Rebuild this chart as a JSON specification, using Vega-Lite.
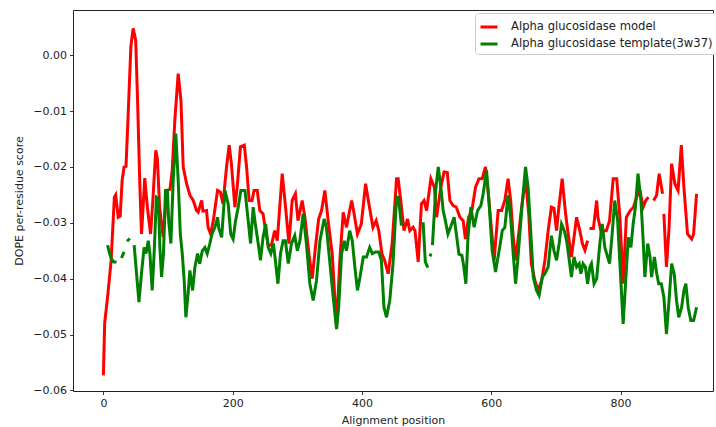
{
  "$schema": "https://vega.github.io/schema/vega-lite/v6.json",
  "width": 640,
  "height": 381,
  "autosize": "none",
  "padding": {"left": 73, "top": 10, "right": 3, "bottom": 36},
  "background": "white",
  "config": {
    "font": "DejaVu Sans",
    "view": {"stroke": "#222", "strokeWidth": 1},
    "axis": {
      "grid": false, "domain": false, "tickColor": "#222", "tickSize": 3.5, "tickWidth": 0.9,
      "labelColor": "#222", "labelFontSize": 11, "labelPadding": 3, "titleColor": "#222",
      "titleFontSize": 11, "titleFontWeight": "normal", "labelFont": "DejaVu Sans", "titleFont": "DejaVu Sans"
    }
  },
  "data": {"values": [
    {"s":"Alpha glucosidase model","x":0,"y":-0.0573},{"s":"Alpha glucosidase model","x":2,"y":-0.048},{"s":"Alpha glucosidase model","x":7,"y":-0.0427},{"s":"Alpha glucosidase model","x":12,"y":-0.0367},{"s":"Alpha glucosidase model","x":17,"y":-0.0254},{"s":"Alpha glucosidase model","x":19,"y":-0.025},{"s":"Alpha glucosidase model","x":23,"y":-0.029},{"s":"Alpha glucosidase model","x":26,"y":-0.0288},{"s":"Alpha glucosidase model","x":29,"y":-0.0224},{"s":"Alpha glucosidase model","x":32,"y":-0.02},{"s":"Alpha glucosidase model","x":35,"y":-0.0199},{"s":"Alpha glucosidase model","x":38,"y":-0.0116},{"s":"Alpha glucosidase model","x":42.5,"y":0.0015},{"s":"Alpha glucosidase model","x":46,"y":0.0048},{"s":"Alpha glucosidase model","x":50,"y":0.0027},{"s":"Alpha glucosidase model","x":53,"y":-0.0086},{"s":"Alpha glucosidase model","x":56.5,"y":-0.0236},{"s":"Alpha glucosidase model","x":59,"y":-0.032},{"s":"Alpha glucosidase model","x":64,"y":-0.022},{"s":"Alpha glucosidase model","x":68,"y":-0.0272},{"s":"Alpha glucosidase model","x":73,"y":-0.032},{"s":"Alpha glucosidase model","x":76.5,"y":-0.026},{"s":"Alpha glucosidase model","x":81,"y":-0.017},{"s":"Alpha glucosidase model","x":83.5,"y":-0.0185},{"s":"Alpha glucosidase model","x":87,"y":-0.0272},{"s":"Alpha glucosidase model","x":92.5,"y":-0.0326},{"s":"Alpha glucosidase model","x":98,"y":-0.0242},{"s":"Alpha glucosidase model","x":103,"y":-0.024},{"s":"Alpha glucosidase model","x":106.5,"y":-0.0206},{"s":"Alpha glucosidase model","x":110.5,"y":-0.0117},{"s":"Alpha glucosidase model","x":115.7,"y":-0.0033},{"s":"Alpha glucosidase model","x":120,"y":-0.0081},{"s":"Alpha glucosidase model","x":123.5,"y":-0.02},{"s":"Alpha glucosidase model","x":128.7,"y":-0.023},{"s":"Alpha glucosidase model","x":134,"y":-0.0251},{"s":"Alpha glucosidase model","x":139,"y":-0.026},{"s":"Alpha glucosidase model","x":144,"y":-0.0278},{"s":"Alpha glucosidase model","x":146.6,"y":-0.0281},{"s":"Alpha glucosidase model","x":152,"y":-0.026},{"s":"Alpha glucosidase model","x":154,"y":-0.0279},{"s":"Alpha glucosidase model","x":159.6,"y":-0.0278},{"s":"Alpha glucosidase model","x":162,"y":-0.0308},{"s":"Alpha glucosidase model","x":166,"y":-0.032},{"s":"Alpha glucosidase model","x":170,"y":-0.0296},{"s":"Alpha glucosidase model","x":176.6,"y":-0.0242},{"s":"Alpha glucosidase model","x":181,"y":-0.0245},{"s":"Alpha glucosidase model","x":185,"y":-0.0266},{"s":"Alpha glucosidase model","x":190.5,"y":-0.02},{"s":"Alpha glucosidase model","x":194.6,"y":-0.0161},{"s":"Alpha glucosidase model","x":198,"y":-0.0194},{"s":"Alpha glucosidase model","x":203.4,"y":-0.0272},{"s":"Alpha glucosidase model","x":207,"y":-0.0236},{"s":"Alpha glucosidase model","x":212,"y":-0.0164},{"s":"Alpha glucosidase model","x":218,"y":-0.0161},{"s":"Alpha glucosidase model","x":221.5,"y":-0.02},{"s":"Alpha glucosidase model","x":225.5,"y":-0.026},{"s":"Alpha glucosidase model","x":230,"y":-0.026},{"s":"Alpha glucosidase model","x":233,"y":-0.0242},{"s":"Alpha glucosidase model","x":238,"y":-0.0242},{"s":"Alpha glucosidase model","x":242,"y":-0.0278},{"s":"Alpha glucosidase model","x":247,"y":-0.0284},{"s":"Alpha glucosidase model","x":251,"y":-0.0314},{"s":"Alpha glucosidase model","x":255,"y":-0.034},{"s":"Alpha glucosidase model","x":260,"y":-0.034},{"s":"Alpha glucosidase model","x":265,"y":-0.0314},{"s":"Alpha glucosidase model","x":269,"y":-0.0332},{"s":"Alpha glucosidase model","x":276.6,"y":-0.0212},{"s":"Alpha glucosidase model","x":281.8,"y":-0.0272},{"s":"Alpha glucosidase model","x":287,"y":-0.0337},{"s":"Alpha glucosidase model","x":292,"y":-0.026},{"s":"Alpha glucosidase model","x":297,"y":-0.0248},{"s":"Alpha glucosidase model","x":301,"y":-0.0296},{"s":"Alpha glucosidase model","x":307.5,"y":-0.026},{"s":"Alpha glucosidase model","x":311.7,"y":-0.029},{"s":"Alpha glucosidase model","x":318,"y":-0.0356},{"s":"Alpha glucosidase model","x":323,"y":-0.04},{"s":"Alpha glucosidase model","x":328,"y":-0.0344},{"s":"Alpha glucosidase model","x":333,"y":-0.0293},{"s":"Alpha glucosidase model","x":337.5,"y":-0.0278},{"s":"Alpha glucosidase model","x":342.6,"y":-0.0242},{"s":"Alpha glucosidase model","x":347.7,"y":-0.0296},{"s":"Alpha glucosidase model","x":354,"y":-0.0356},{"s":"Alpha glucosidase model","x":360.7,"y":-0.0487},{"s":"Alpha glucosidase model","x":365.8,"y":-0.0367},{"s":"Alpha glucosidase model","x":371,"y":-0.0281},{"s":"Alpha glucosidase model","x":376,"y":-0.0308},{"s":"Alpha glucosidase model","x":384,"y":-0.026},{"s":"Alpha glucosidase model","x":387,"y":-0.0278},{"s":"Alpha glucosidase model","x":393,"y":-0.032},{"s":"Alpha glucosidase model","x":399,"y":-0.0302},{"s":"Alpha glucosidase model","x":405.6,"y":-0.023},{"s":"Alpha glucosidase model","x":410.7,"y":-0.0266},{"s":"Alpha glucosidase model","x":417,"y":-0.0308},{"s":"Alpha glucosidase model","x":422,"y":-0.0296},{"s":"Alpha glucosidase model","x":426,"y":-0.0314},{"s":"Alpha glucosidase model","x":431,"y":-0.0356},{"s":"Alpha glucosidase model","x":435,"y":-0.0367},{"s":"Alpha glucosidase model","x":440.5,"y":-0.0391},{"s":"Alpha glucosidase model","x":446.7,"y":-0.0337},{"s":"Alpha glucosidase model","x":453.5,"y":-0.0221},{"s":"Alpha glucosidase model","x":456,"y":-0.0221},{"s":"Alpha glucosidase model","x":460,"y":-0.026},{"s":"Alpha glucosidase model","x":465,"y":-0.0314},{"s":"Alpha glucosidase model","x":470.5,"y":-0.0293},{"s":"Alpha glucosidase model","x":474,"y":-0.0314},{"s":"Alpha glucosidase model","x":479,"y":-0.0308},{"s":"Alpha glucosidase model","x":482,"y":-0.0314},{"s":"Alpha glucosidase model","x":487,"y":-0.037},{"s":"Alpha glucosidase model","x":492,"y":-0.0266},{"s":"Alpha glucosidase model","x":496,"y":-0.026},{"s":"Alpha glucosidase model","x":500,"y":-0.0278},{"s":"Alpha glucosidase model","x":506.6,"y":-0.0221},{"s":"Alpha glucosidase model","x":512,"y":-0.0236},{"s":"Alpha glucosidase model","x":515.4,"y":-0.029},{"s":"Alpha glucosidase model","x":522,"y":-0.0236},{"s":"Alpha glucosidase model","x":527,"y":-0.0209},{"s":"Alpha glucosidase model","x":532,"y":-0.021},{"s":"Alpha glucosidase model","x":536,"y":-0.026},{"s":"Alpha glucosidase model","x":541,"y":-0.0269},{"s":"Alpha glucosidase model","x":546,"y":-0.0272},{"s":"Alpha glucosidase model","x":551.5,"y":-0.029},{"s":"Alpha glucosidase model","x":556.5,"y":-0.0296},{"s":"Alpha glucosidase model","x":560,"y":-0.0329},{"s":"Alpha glucosidase model","x":565,"y":-0.029},{"s":"Alpha glucosidase model","x":570,"y":-0.0278},{"s":"Alpha glucosidase model","x":575.7,"y":-0.0236},{"s":"Alpha glucosidase model","x":581,"y":-0.0221},{"s":"Alpha glucosidase model","x":586,"y":-0.0221},{"s":"Alpha glucosidase model","x":591,"y":-0.02},{"s":"Alpha glucosidase model","x":595,"y":-0.0242},{"s":"Alpha glucosidase model","x":600.5,"y":-0.0314},{"s":"Alpha glucosidase model","x":604.5,"y":-0.0367},{"s":"Alpha glucosidase model","x":607,"y":-0.033},{"s":"Alpha glucosidase model","x":610.7,"y":-0.0278},{"s":"Alpha glucosidase model","x":616,"y":-0.0278},{"s":"Alpha glucosidase model","x":621,"y":-0.026},{"s":"Alpha glucosidase model","x":626,"y":-0.0221},{"s":"Alpha glucosidase model","x":630,"y":-0.026},{"s":"Alpha glucosidase model","x":634,"y":-0.0326},{"s":"Alpha glucosidase model","x":637.6,"y":-0.0367},{"s":"Alpha glucosidase model","x":640.7,"y":-0.0337},{"s":"Alpha glucosidase model","x":647,"y":-0.0272},{"s":"Alpha glucosidase model","x":653,"y":-0.0221},{"s":"Alpha glucosidase model","x":658,"y":-0.0284},{"s":"Alpha glucosidase model","x":662,"y":-0.0373},{"s":"Alpha glucosidase model","x":667.4,"y":-0.0403},{"s":"Alpha glucosidase model","x":672.5,"y":-0.0421},{"s":"Alpha glucosidase model","x":678,"y":-0.0403},{"s":"Alpha glucosidase model","x":683,"y":-0.0367},{"s":"Alpha glucosidase model","x":688,"y":-0.0314},{"s":"Alpha glucosidase model","x":693,"y":-0.0272},{"s":"Alpha glucosidase model","x":697,"y":-0.0274},{"s":"Alpha glucosidase model","x":701,"y":-0.0314},{"s":"Alpha glucosidase model","x":704.6,"y":-0.0272},{"s":"Alpha glucosidase model","x":709.7,"y":-0.0221},{"s":"Alpha glucosidase model","x":715,"y":-0.0284},{"s":"Alpha glucosidase model","x":719,"y":-0.032},{"s":"Alpha glucosidase model","x":724,"y":-0.0361},{"s":"Alpha glucosidase model","x":728,"y":-0.0326},{"s":"Alpha glucosidase model","x":732,"y":-0.029},{"s":"Alpha glucosidase model","x":737,"y":-0.0314},{"s":"Alpha glucosidase model","x":741,"y":-0.0337},{"s":"Alpha glucosidase model","x":745,"y":-0.0349},{"s":"Alpha glucosidase model","x":749,"y":-0.0332},{"s":"Alpha glucosidase model","x":750.5,"y":null},{"s":"Alpha glucosidase model","x":752,"y":-0.031},{"s":"Alpha glucosidase model","x":758,"y":-0.031},{"s":"Alpha glucosidase model","x":763,"y":-0.026},{"s":"Alpha glucosidase model","x":765,"y":-0.029},{"s":"Alpha glucosidase model","x":770.6,"y":-0.032},{"s":"Alpha glucosidase model","x":774,"y":-0.0314},{"s":"Alpha glucosidase model","x":778,"y":-0.0314},{"s":"Alpha glucosidase model","x":783,"y":-0.0296},{"s":"Alpha glucosidase model","x":788.6,"y":-0.0221},{"s":"Alpha glucosidase model","x":794,"y":-0.0221},{"s":"Alpha glucosidase model","x":799,"y":-0.029},{"s":"Alpha glucosidase model","x":804,"y":-0.0409},{"s":"Alpha glucosidase model","x":809,"y":-0.029},{"s":"Alpha glucosidase model","x":815,"y":-0.0278},{"s":"Alpha glucosidase model","x":820,"y":-0.0272},{"s":"Alpha glucosidase model","x":824.7,"y":-0.0254},{"s":"Alpha glucosidase model","x":830,"y":-0.0242},{"s":"Alpha glucosidase model","x":835,"y":-0.0272},{"s":"Alpha glucosidase model","x":839,"y":-0.026},{"s":"Alpha glucosidase model","x":843,"y":-0.0254},{"s":"Alpha glucosidase model","x":847,"y":null},{"s":"Alpha glucosidase model","x":851,"y":-0.026},{"s":"Alpha glucosidase model","x":855.7,"y":-0.0251},{"s":"Alpha glucosidase model","x":859.7,"y":-0.0212},{"s":"Alpha glucosidase model","x":865,"y":-0.0248},{"s":"Alpha glucosidase model","x":866,"y":null},{"s":"Alpha glucosidase model","x":867,"y":-0.0284},{"s":"Alpha glucosidase model","x":871,"y":-0.0379},{"s":"Alpha glucosidase model","x":875,"y":-0.031},{"s":"Alpha glucosidase model","x":879,"y":-0.0194},{"s":"Alpha glucosidase model","x":884,"y":-0.023},{"s":"Alpha glucosidase model","x":889,"y":-0.0242},{"s":"Alpha glucosidase model","x":894,"y":-0.0161},{"s":"Alpha glucosidase model","x":898,"y":-0.0236},{"s":"Alpha glucosidase model","x":903.6,"y":-0.032},{"s":"Alpha glucosidase model","x":910,"y":-0.0329},{"s":"Alpha glucosidase model","x":913,"y":-0.032},{"s":"Alpha glucosidase model","x":917.6,"y":-0.0248},
    {"s":"Alpha glucosidase template(3w37)","x":6.5,"y":-0.034},{"s":"Alpha glucosidase template(3w37)","x":9.6,"y":-0.0355},{"s":"Alpha glucosidase template(3w37)","x":12.7,"y":-0.0365},{"s":"Alpha glucosidase template(3w37)","x":16,"y":-0.037},{"s":"Alpha glucosidase template(3w37)","x":20.4,"y":-0.037},{"s":"Alpha glucosidase template(3w37)","x":24,"y":null},{"s":"Alpha glucosidase template(3w37)","x":28,"y":-0.0363},{"s":"Alpha glucosidase template(3w37)","x":32,"y":-0.0352},{"s":"Alpha glucosidase template(3w37)","x":34.5,"y":null},{"s":"Alpha glucosidase template(3w37)","x":36.5,"y":-0.0333},{"s":"Alpha glucosidase template(3w37)","x":41,"y":-0.0328},{"s":"Alpha glucosidase template(3w37)","x":44,"y":null},{"s":"Alpha glucosidase template(3w37)","x":47.6,"y":-0.034},{"s":"Alpha glucosidase template(3w37)","x":51.3,"y":-0.0391},{"s":"Alpha glucosidase template(3w37)","x":55,"y":-0.0442},{"s":"Alpha glucosidase template(3w37)","x":59,"y":-0.039},{"s":"Alpha glucosidase template(3w37)","x":63,"y":-0.0344},{"s":"Alpha glucosidase template(3w37)","x":66,"y":-0.0355},{"s":"Alpha glucosidase template(3w37)","x":69.4,"y":-0.0332},{"s":"Alpha glucosidase template(3w37)","x":72,"y":-0.0355},{"s":"Alpha glucosidase template(3w37)","x":75.5,"y":-0.0421},{"s":"Alpha glucosidase template(3w37)","x":78.5,"y":-0.0355},{"s":"Alpha glucosidase template(3w37)","x":82,"y":-0.0254},{"s":"Alpha glucosidase template(3w37)","x":85,"y":-0.0256},{"s":"Alpha glucosidase template(3w37)","x":87.4,"y":-0.0344},{"s":"Alpha glucosidase template(3w37)","x":90,"y":-0.0397},{"s":"Alpha glucosidase template(3w37)","x":93,"y":-0.0355},{"s":"Alpha glucosidase template(3w37)","x":96,"y":-0.0242},{"s":"Alpha glucosidase template(3w37)","x":99,"y":-0.0242},{"s":"Alpha glucosidase template(3w37)","x":101,"y":-0.0296},{"s":"Alpha glucosidase template(3w37)","x":104.4,"y":-0.0337},{"s":"Alpha glucosidase template(3w37)","x":108,"y":-0.0224},{"s":"Alpha glucosidase template(3w37)","x":112,"y":-0.014},{"s":"Alpha glucosidase template(3w37)","x":115.7,"y":-0.0224},{"s":"Alpha glucosidase template(3w37)","x":119,"y":-0.032},{"s":"Alpha glucosidase template(3w37)","x":122,"y":-0.0355},{"s":"Alpha glucosidase template(3w37)","x":125,"y":-0.0403},{"s":"Alpha glucosidase template(3w37)","x":127.6,"y":-0.0469},{"s":"Alpha glucosidase template(3w37)","x":131,"y":-0.0427},{"s":"Alpha glucosidase template(3w37)","x":133.8,"y":-0.0385},{"s":"Alpha glucosidase template(3w37)","x":138,"y":-0.0421},{"s":"Alpha glucosidase template(3w37)","x":141.5,"y":-0.038},{"s":"Alpha glucosidase template(3w37)","x":145.7,"y":-0.0355},{"s":"Alpha glucosidase template(3w37)","x":149,"y":-0.0373},{"s":"Alpha glucosidase template(3w37)","x":153,"y":-0.035},{"s":"Alpha glucosidase template(3w37)","x":157,"y":-0.0344},{"s":"Alpha glucosidase template(3w37)","x":160.6,"y":-0.0355},{"s":"Alpha glucosidase template(3w37)","x":164.7,"y":-0.0337},{"s":"Alpha glucosidase template(3w37)","x":168,"y":-0.032},{"s":"Alpha glucosidase template(3w37)","x":172.5,"y":-0.0308},{"s":"Alpha glucosidase template(3w37)","x":176.6,"y":-0.029},{"s":"Alpha glucosidase template(3w37)","x":178.6,"y":-0.031},{"s":"Alpha glucosidase template(3w37)","x":183,"y":-0.0326},{"s":"Alpha glucosidase template(3w37)","x":188,"y":-0.0242},{"s":"Alpha glucosidase template(3w37)","x":193,"y":-0.0266},{"s":"Alpha glucosidase template(3w37)","x":197,"y":-0.032},{"s":"Alpha glucosidase template(3w37)","x":200.7,"y":-0.0329},{"s":"Alpha glucosidase template(3w37)","x":204.5,"y":-0.0296},{"s":"Alpha glucosidase template(3w37)","x":208.5,"y":-0.0272},{"s":"Alpha glucosidase template(3w37)","x":212.7,"y":-0.0242},{"s":"Alpha glucosidase template(3w37)","x":219,"y":-0.0242},{"s":"Alpha glucosidase template(3w37)","x":224,"y":-0.0296},{"s":"Alpha glucosidase template(3w37)","x":227.7,"y":-0.0337},{"s":"Alpha glucosidase template(3w37)","x":231.7,"y":-0.0272},{"s":"Alpha glucosidase template(3w37)","x":235,"y":-0.0302},{"s":"Alpha glucosidase template(3w37)","x":239.5,"y":-0.0337},{"s":"Alpha glucosidase template(3w37)","x":243,"y":-0.0367},{"s":"Alpha glucosidase template(3w37)","x":247,"y":-0.0326},{"s":"Alpha glucosidase template(3w37)","x":251,"y":-0.0302},{"s":"Alpha glucosidase template(3w37)","x":255,"y":-0.0344},{"s":"Alpha glucosidase template(3w37)","x":259,"y":-0.0355},{"s":"Alpha glucosidase template(3w37)","x":263,"y":-0.0337},{"s":"Alpha glucosidase template(3w37)","x":266,"y":-0.0367},{"s":"Alpha glucosidase template(3w37)","x":270,"y":-0.0409},{"s":"Alpha glucosidase template(3w37)","x":274,"y":-0.0355},{"s":"Alpha glucosidase template(3w37)","x":278,"y":-0.0332},{"s":"Alpha glucosidase template(3w37)","x":281.6,"y":-0.0332},{"s":"Alpha glucosidase template(3w37)","x":286,"y":-0.0373},{"s":"Alpha glucosidase template(3w37)","x":291,"y":-0.0337},{"s":"Alpha glucosidase template(3w37)","x":296,"y":-0.0323},{"s":"Alpha glucosidase template(3w37)","x":300,"y":-0.035},{"s":"Alpha glucosidase template(3w37)","x":304,"y":-0.0332},{"s":"Alpha glucosidase template(3w37)","x":309,"y":-0.0284},{"s":"Alpha glucosidase template(3w37)","x":314,"y":-0.0337},{"s":"Alpha glucosidase template(3w37)","x":319.4,"y":-0.0409},{"s":"Alpha glucosidase template(3w37)","x":324.5,"y":-0.0439},{"s":"Alpha glucosidase template(3w37)","x":329.7,"y":-0.0403},{"s":"Alpha glucosidase template(3w37)","x":335,"y":-0.0332},{"s":"Alpha glucosidase template(3w37)","x":341.5,"y":-0.0293},{"s":"Alpha glucosidase template(3w37)","x":345,"y":-0.0308},{"s":"Alpha glucosidase template(3w37)","x":350,"y":-0.0367},{"s":"Alpha glucosidase template(3w37)","x":355.5,"y":-0.0433},{"s":"Alpha glucosidase template(3w37)","x":360.7,"y":-0.049},{"s":"Alpha glucosidase template(3w37)","x":364,"y":-0.0451},{"s":"Alpha glucosidase template(3w37)","x":368.4,"y":-0.0356},{"s":"Alpha glucosidase template(3w37)","x":372.5,"y":-0.0332},{"s":"Alpha glucosidase template(3w37)","x":376,"y":-0.035},{"s":"Alpha glucosidase template(3w37)","x":381,"y":-0.0314},{"s":"Alpha glucosidase template(3w37)","x":385,"y":-0.0332},{"s":"Alpha glucosidase template(3w37)","x":389,"y":-0.0379},{"s":"Alpha glucosidase template(3w37)","x":393,"y":-0.0421},{"s":"Alpha glucosidase template(3w37)","x":397,"y":-0.0397},{"s":"Alpha glucosidase template(3w37)","x":402,"y":-0.0361},{"s":"Alpha glucosidase template(3w37)","x":407,"y":-0.0361},{"s":"Alpha glucosidase template(3w37)","x":412,"y":-0.0344},{"s":"Alpha glucosidase template(3w37)","x":416,"y":-0.0355},{"s":"Alpha glucosidase template(3w37)","x":421,"y":-0.0352},{"s":"Alpha glucosidase template(3w37)","x":426,"y":-0.0352},{"s":"Alpha glucosidase template(3w37)","x":430,"y":-0.0367},{"s":"Alpha glucosidase template(3w37)","x":434,"y":-0.0451},{"s":"Alpha glucosidase template(3w37)","x":438,"y":-0.0469},{"s":"Alpha glucosidase template(3w37)","x":443,"y":-0.0439},{"s":"Alpha glucosidase template(3w37)","x":448,"y":-0.0373},{"s":"Alpha glucosidase template(3w37)","x":453.5,"y":-0.0254},{"s":"Alpha glucosidase template(3w37)","x":456,"y":-0.0254},{"s":"Alpha glucosidase template(3w37)","x":458.6,"y":-0.0278},{"s":"Alpha glucosidase template(3w37)","x":461,"y":-0.0305},{"s":"Alpha glucosidase template(3w37)","x":478,"y":null},{"s":"Alpha glucosidase template(3w37)","x":494.6,"y":-0.0299},{"s":"Alpha glucosidase template(3w37)","x":498,"y":-0.037},{"s":"Alpha glucosidase template(3w37)","x":502,"y":-0.038},{"s":"Alpha glucosidase template(3w37)","x":503.5,"y":null},{"s":"Alpha glucosidase template(3w37)","x":505,"y":-0.036},{"s":"Alpha glucosidase template(3w37)","x":507,"y":-0.0355},{"s":"Alpha glucosidase template(3w37)","x":508,"y":null},{"s":"Alpha glucosidase template(3w37)","x":509,"y":-0.034},{"s":"Alpha glucosidase template(3w37)","x":514,"y":-0.0242},{"s":"Alpha glucosidase template(3w37)","x":518,"y":-0.02},{"s":"Alpha glucosidase template(3w37)","x":522,"y":-0.0236},{"s":"Alpha glucosidase template(3w37)","x":525.6,"y":-0.0278},{"s":"Alpha glucosidase template(3w37)","x":529,"y":-0.0296},{"s":"Alpha glucosidase template(3w37)","x":533,"y":-0.032},{"s":"Alpha glucosidase template(3w37)","x":537,"y":-0.0308},{"s":"Alpha glucosidase template(3w37)","x":542.6,"y":-0.029},{"s":"Alpha glucosidase template(3w37)","x":546,"y":-0.032},{"s":"Alpha glucosidase template(3w37)","x":550,"y":-0.0356},{"s":"Alpha glucosidase template(3w37)","x":554.6,"y":-0.0358},{"s":"Alpha glucosidase template(3w37)","x":557.6,"y":-0.0379},{"s":"Alpha glucosidase template(3w37)","x":560.7,"y":-0.0409},{"s":"Alpha glucosidase template(3w37)","x":564,"y":-0.0326},{"s":"Alpha glucosidase template(3w37)","x":568.4,"y":-0.0272},{"s":"Alpha glucosidase template(3w37)","x":573.5,"y":-0.0308},{"s":"Alpha glucosidase template(3w37)","x":578.8,"y":-0.0278},{"s":"Alpha glucosidase template(3w37)","x":584,"y":-0.0269},{"s":"Alpha glucosidase template(3w37)","x":587.5,"y":-0.0248},{"s":"Alpha glucosidase template(3w37)","x":592.7,"y":-0.0206},{"s":"Alpha glucosidase template(3w37)","x":596.7,"y":-0.0266},{"s":"Alpha glucosidase template(3w37)","x":601.4,"y":-0.035},{"s":"Alpha glucosidase template(3w37)","x":606.6,"y":-0.0388},{"s":"Alpha glucosidase template(3w37)","x":609.6,"y":-0.0367},{"s":"Alpha glucosidase template(3w37)","x":613,"y":-0.0344},{"s":"Alpha glucosidase template(3w37)","x":617,"y":-0.0314},{"s":"Alpha glucosidase template(3w37)","x":621,"y":-0.0308},{"s":"Alpha glucosidase template(3w37)","x":626,"y":-0.0251},{"s":"Alpha glucosidase template(3w37)","x":630,"y":-0.029},{"s":"Alpha glucosidase template(3w37)","x":634,"y":-0.0356},{"s":"Alpha glucosidase template(3w37)","x":637.6,"y":-0.0409},{"s":"Alpha glucosidase template(3w37)","x":641,"y":-0.0367},{"s":"Alpha glucosidase template(3w37)","x":647,"y":-0.0278},{"s":"Alpha glucosidase template(3w37)","x":653,"y":-0.02},{"s":"Alpha glucosidase template(3w37)","x":657,"y":-0.0236},{"s":"Alpha glucosidase template(3w37)","x":661,"y":-0.0314},{"s":"Alpha glucosidase template(3w37)","x":665,"y":-0.0397},{"s":"Alpha glucosidase template(3w37)","x":670,"y":-0.0421},{"s":"Alpha glucosidase template(3w37)","x":674,"y":-0.043},{"s":"Alpha glucosidase template(3w37)","x":679,"y":-0.0397},{"s":"Alpha glucosidase template(3w37)","x":683,"y":-0.0391},{"s":"Alpha glucosidase template(3w37)","x":688,"y":-0.0379},{"s":"Alpha glucosidase template(3w37)","x":693,"y":-0.0323},{"s":"Alpha glucosidase template(3w37)","x":697,"y":-0.035},{"s":"Alpha glucosidase template(3w37)","x":701,"y":-0.0367},{"s":"Alpha glucosidase template(3w37)","x":705,"y":-0.0337},{"s":"Alpha glucosidase template(3w37)","x":708.7,"y":-0.0302},{"s":"Alpha glucosidase template(3w37)","x":713,"y":-0.0314},{"s":"Alpha glucosidase template(3w37)","x":716.6,"y":-0.0332},{"s":"Alpha glucosidase template(3w37)","x":720,"y":-0.0361},{"s":"Alpha glucosidase template(3w37)","x":724,"y":-0.0397},{"s":"Alpha glucosidase template(3w37)","x":728,"y":-0.0361},{"s":"Alpha glucosidase template(3w37)","x":732,"y":-0.0379},{"s":"Alpha glucosidase template(3w37)","x":736,"y":-0.0373},{"s":"Alpha glucosidase template(3w37)","x":738.6,"y":-0.0391},{"s":"Alpha glucosidase template(3w37)","x":742,"y":-0.0373},{"s":"Alpha glucosidase template(3w37)","x":745.6,"y":-0.0379},{"s":"Alpha glucosidase template(3w37)","x":749,"y":-0.0409},{"s":"Alpha glucosidase template(3w37)","x":752.6,"y":-0.0379},{"s":"Alpha glucosidase template(3w37)","x":755,"y":-0.0373},{"s":"Alpha glucosidase template(3w37)","x":759,"y":-0.0409},{"s":"Alpha glucosidase template(3w37)","x":763,"y":-0.04},{"s":"Alpha glucosidase template(3w37)","x":768,"y":-0.0337},{"s":"Alpha glucosidase template(3w37)","x":771.6,"y":-0.0302},{"s":"Alpha glucosidase template(3w37)","x":775.7,"y":-0.0344},{"s":"Alpha glucosidase template(3w37)","x":780,"y":-0.0361},{"s":"Alpha glucosidase template(3w37)","x":783,"y":-0.0373},{"s":"Alpha glucosidase template(3w37)","x":787,"y":-0.032},{"s":"Alpha glucosidase template(3w37)","x":791,"y":-0.026},{"s":"Alpha glucosidase template(3w37)","x":795.5,"y":-0.0296},{"s":"Alpha glucosidase template(3w37)","x":799,"y":-0.0373},{"s":"Alpha glucosidase template(3w37)","x":804,"y":-0.0481},{"s":"Alpha glucosidase template(3w37)","x":808,"y":-0.0403},{"s":"Alpha glucosidase template(3w37)","x":812,"y":-0.0326},{"s":"Alpha glucosidase template(3w37)","x":816,"y":-0.0344},{"s":"Alpha glucosidase template(3w37)","x":819.5,"y":-0.0302},{"s":"Alpha glucosidase template(3w37)","x":823,"y":-0.0272},{"s":"Alpha glucosidase template(3w37)","x":827,"y":-0.0212},{"s":"Alpha glucosidase template(3w37)","x":831.5,"y":-0.026},{"s":"Alpha glucosidase template(3w37)","x":835,"y":-0.0332},{"s":"Alpha glucosidase template(3w37)","x":837.6,"y":-0.0397},{"s":"Alpha glucosidase template(3w37)","x":842,"y":-0.0337},{"s":"Alpha glucosidase template(3w37)","x":845.6,"y":-0.0361},{"s":"Alpha glucosidase template(3w37)","x":848,"y":-0.0397},{"s":"Alpha glucosidase template(3w37)","x":852.4,"y":-0.0361},{"s":"Alpha glucosidase template(3w37)","x":856,"y":-0.0391},{"s":"Alpha glucosidase template(3w37)","x":859,"y":-0.0409},{"s":"Alpha glucosidase template(3w37)","x":863,"y":-0.0409},{"s":"Alpha glucosidase template(3w37)","x":867,"y":-0.0433},{"s":"Alpha glucosidase template(3w37)","x":871,"y":-0.0499},{"s":"Alpha glucosidase template(3w37)","x":875,"y":-0.0439},{"s":"Alpha glucosidase template(3w37)","x":879,"y":-0.0373},{"s":"Alpha glucosidase template(3w37)","x":883,"y":-0.0391},{"s":"Alpha glucosidase template(3w37)","x":886.6,"y":-0.0439},{"s":"Alpha glucosidase template(3w37)","x":890,"y":-0.0469},{"s":"Alpha glucosidase template(3w37)","x":894.5,"y":-0.0451},{"s":"Alpha glucosidase template(3w37)","x":898,"y":-0.0421},{"s":"Alpha glucosidase template(3w37)","x":901,"y":-0.0409},{"s":"Alpha glucosidase template(3w37)","x":904.6,"y":-0.0451},{"s":"Alpha glucosidase template(3w37)","x":908.7,"y":-0.0475},{"s":"Alpha glucosidase template(3w37)","x":913,"y":-0.0475},{"s":"Alpha glucosidase template(3w37)","x":917.6,"y":-0.0451}
  ]},
  "mark": {"type": "line", "strokeWidth": 3, "clip": true},
  "encoding": {
    "x": {"field": "x", "type": "quantitative", "title": "Alignment position",
      "scale": {"domain": [-47, 943], "nice": false, "zero": false},
      "axis": {"values": [0, 200, 400, 600, 800], "format": "d", "titlePadding": 6}},
    "y": {"field": "y", "type": "quantitative", "title": "DOPE per-residue score",
      "scale": {"domain": [-0.0601, 0.0081], "nice": false, "zero": false},
      "axis": {"values": [-0.06, -0.05, -0.04, -0.03, -0.02, -0.01, 0], "labelExpr": "replace(format(datum.value, '.2f'), '-', '\u2212')", "titlePadding": 8}},
    "color": {"field": "s", "type": "nominal", "title": null,
      "scale": {"domain": ["Alpha glucosidase model", "Alpha glucosidase template(3w37)"], "range": ["#ff0000", "#008000"]},
      "legend": {"orient": "none", "legendX": 402, "legendY": 3, "symbolType": "stroke", "symbolStrokeWidth": 3, "symbolSize": 289,
        "labelFontSize": 11.6, "labelLimit": 0, "labelColor": "#222", "labelFont": "DejaVu Sans", "fillColor": "white", "strokeColor": "#cccccc", "cornerRadius": 3, "padding": 4, "rowPadding": 1, "labelOffset": 12}},
    "order": {"field": "x", "type": "quantitative"}
  }
}
